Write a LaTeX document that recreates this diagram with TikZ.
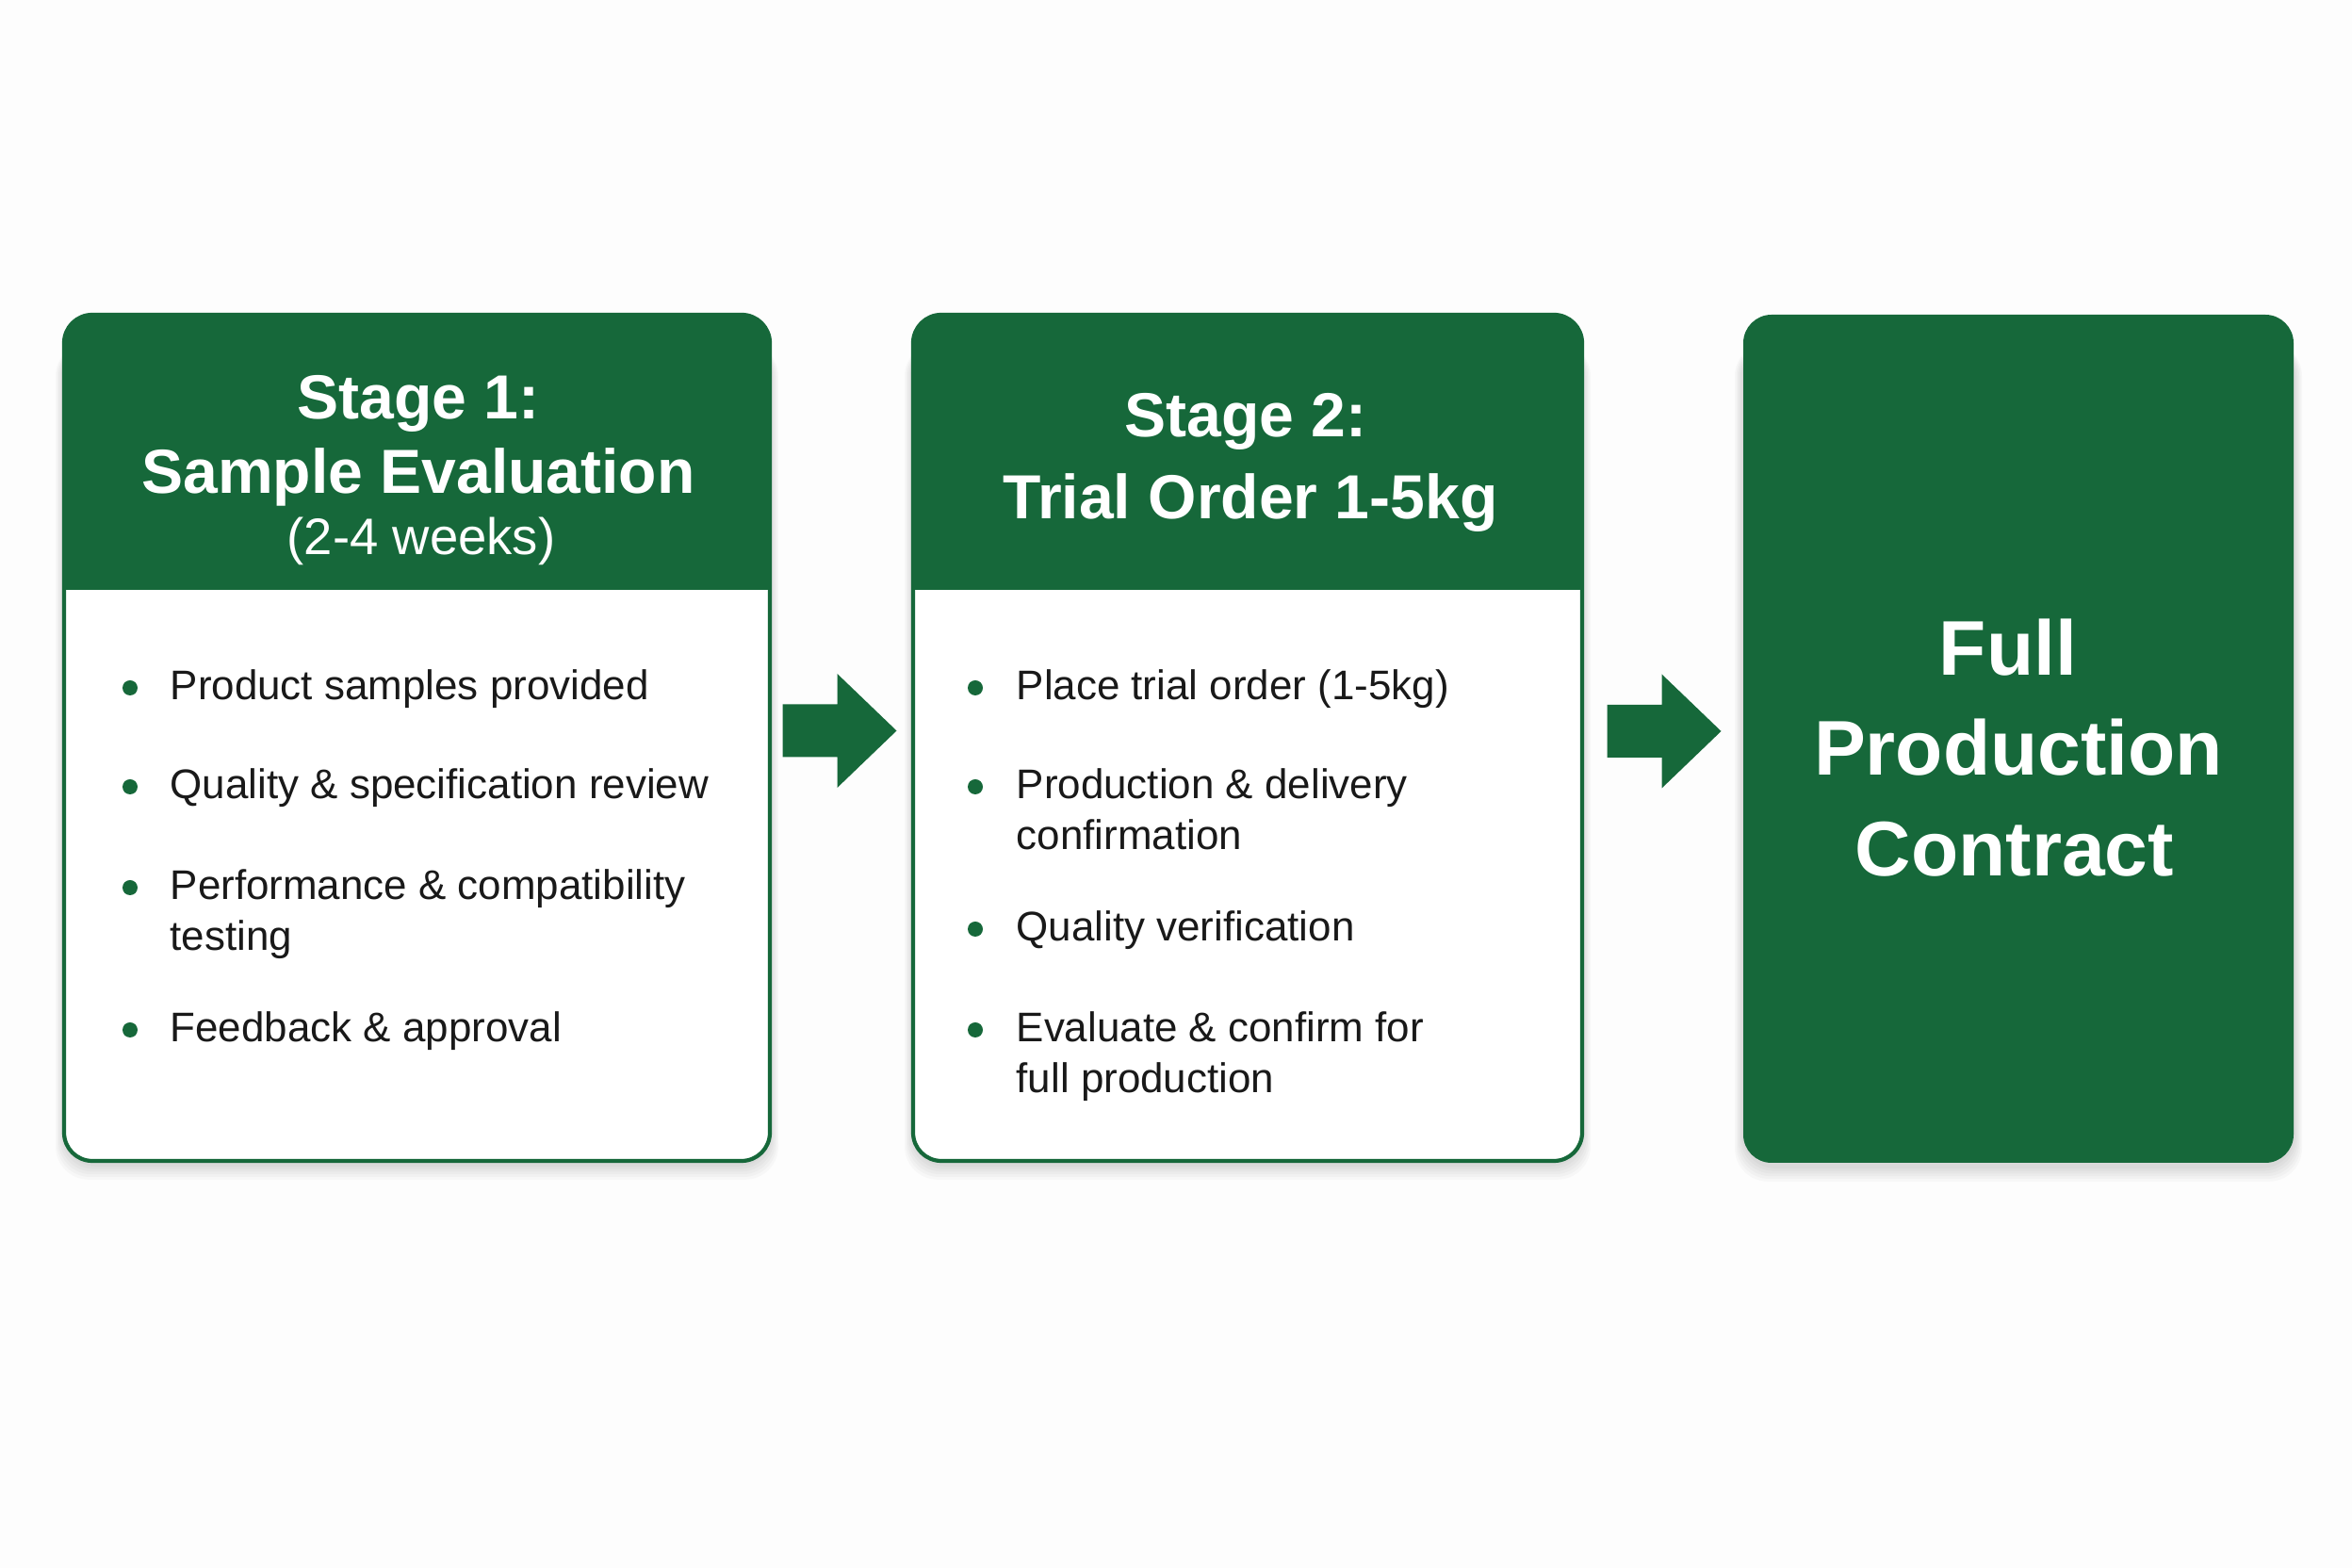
\documentclass[tikz,border=0pt]{standalone}
\usepackage{fontspec}
\setmainfont{Liberation Sans}
\definecolor{grn}{RGB}{22,104,58}
\definecolor{ink}{RGB}{25,25,25}
\definecolor{bgc}{RGB}{253,253,253}
\tikzset{
  frame/.style={rectangle, inner sep=0pt, outer sep=0pt},
  itemtext/.style={anchor=base west, inner sep=0pt, text=ink, font=\fontsize{12.5}{15}\selectfont},
  bulletdot/.style={circle, fill=grn, inner sep=0pt, minimum size=0.16cm},
  headtext/.style={anchor=base, inner sep=0pt, text=white, font=\bfseries\fontsize{18.8}{22}\selectfont},
  subtext/.style={anchor=base, inner sep=0pt, text=white, font=\fontsize{15.5}{18}\selectfont},
  bigtext/.style={anchor=base, inner sep=0pt, text=white, font=\bfseries\fontsize{23.4}{28}\selectfont},
  rc/.style={rounded corners=0.3cm}
}
\begin{document}
\begin{tikzpicture}
\fill[bgc] (0,0) rectangle (24.96,-16.64);
\useasboundingbox (0,0) rectangle (24.96,-16.64);

% frames
\node[frame, minimum width=7.49cm, minimum height=8.98cm] (b1) at (4.425,-7.83) {};
\node[frame, minimum width=7.10cm, minimum height=8.98cm] (b2) at (13.24,-7.83) {};
\node[frame, minimum width=5.84cm, minimum height=9.00cm] (b3) at (21.42,-7.84) {};

% shadows
\foreach \b in {b1,b2,b3}{
  \foreach \k in {1,...,6}{
    \fill[black, opacity=0.022, rounded corners=0.35cm]
      ([xshift=-\k*0.015cm, yshift=-0.03cm-\k*0.028cm]\b.south west) rectangle ([xshift=\k*0.015cm, yshift=-0.3cm]\b.north east);
  }
}

% box 1
\fill[white, rc] (b1.south west) rectangle (b1.north east);
\begin{scope}
  \clip[rc] (b1.south west) rectangle (b1.north east);
  \fill[grn] (b1.north west) rectangle (b1.east |- 0,-6.26);
\end{scope}
\draw[grn, line width=1.2pt, rc] (b1.south west) rectangle (b1.north east);

% box 2
\fill[white, rc] (b2.south west) rectangle (b2.north east);
\begin{scope}
  \clip[rc] (b2.south west) rectangle (b2.north east);
  \fill[grn] (b2.north west) rectangle (b2.east |- 0,-6.26);
\end{scope}
\draw[grn, line width=1.2pt, rc] (b2.south west) rectangle (b2.north east);

% box 3
\fill[grn, rc] (b3.south west) rectangle (b3.north east);

% arrows
\path (b1.east) -- (b2.west) coordinate[pos=0.5] (m1);
\path (b2.east) -- (b3.west) coordinate[pos=0.5] (m2);
\coordinate (a1) at ([xshift=-0.02cm, yshift=0.075cm]m1);
\coordinate (a2) at ([xshift=0.015cm, yshift=0.075cm]m2);
\foreach \a in {a1,a2}{
  \fill[grn, shift={(\a)}] (-0.605,0.28) -- (-0.025,0.28) -- (-0.025,0.605) -- (0.605,0) -- (-0.025,-0.605) -- (-0.025,-0.28) -- (-0.605,-0.28) -- cycle;
}

% headers
\node[headtext] (h1a) at (4.44,-4.45) {Stage 1:};
\node[headtext] (h1b) at (4.44,-5.24) {Sample Evaluation};
\node[subtext]  (h1c) at (4.47,-5.89) {(2-4 weeks)};
\node[headtext] (h2a) at (13.22,-4.64) {Stage 2:};
\node[headtext] (h2b) at (13.27,-5.51) {Trial Order 1-5kg};

\node[bigtext] (f1) at (21.31,-7.17) {Full};
\node[bigtext] (f2) at (21.42,-8.23) {Production};
\node[bigtext] (f3) at (21.38,-9.30) {Contract};

% box 1 items
\node[itemtext] (p1) at (1.80,-7.43) {Product samples provided};
\node[itemtext] (p2) at (1.80,-8.48) {Quality \& specification review};
\node[itemtext] (p3) at (1.80,-9.55) {Performance \& compatibility};
\node[itemtext] (p3b) at (1.80,-10.09) {testing};
\node[itemtext] (p4) at (1.80,-11.06) {Feedback \& approval};
\foreach \y [count=\i] in {-7.43,-8.48,-9.55,-11.06}{
  \node[bulletdot] (d1\i) at (1.38,\y+0.13) {};
}

% box 2 items
\node[itemtext] (q1) at (10.78,-7.43) {Place trial order (1-5kg)};
\node[itemtext] (q2) at (10.78,-8.48) {Production \& delivery};
\node[itemtext] (q2b) at (10.78,-9.02) {confirmation};
\node[itemtext] (q3) at (10.78,-9.99) {Quality verification};
\node[itemtext] (q4) at (10.78,-11.06) {Evaluate \& confirm for};
\node[itemtext] (q4b) at (10.78,-11.60) {full production};
\foreach \y [count=\i] in {-7.43,-8.48,-9.99,-11.06}{
  \node[bulletdot] (d2\i) at (10.35,\y+0.13) {};
}
\end{tikzpicture}
\end{document}
